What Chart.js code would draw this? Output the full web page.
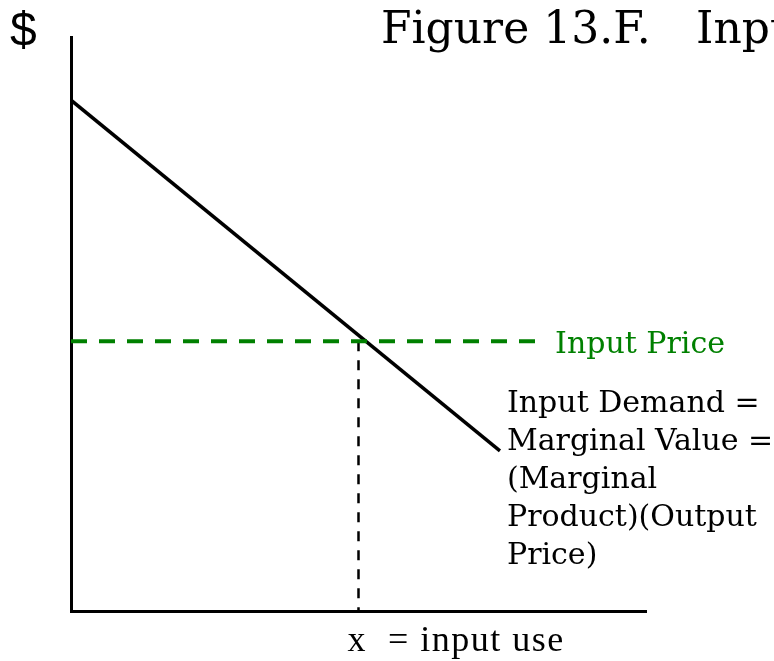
<!DOCTYPE html>
<html>
<head>
<meta charset="utf-8">
<script src="https://cdn.jsdelivr.net/npm/chart.js@4.4.0/dist/chart.umd.min.js"></script>
<style>
  html, body { margin: 0; padding: 0; background: #fff; }
  #wrap { width: 774px; height: 661px; }
</style>
</head>
<body>
<div id="wrap"><canvas id="chart"></canvas></div>
<script>
// curve values in axis units (0..100 on both axes)
const demandX = [0, 74.6]
const demandY = [89, 27.9]
const priceX = [0, 80.7]
const priceY = [47, 47]
const useX = [50, 50]
const useY = [47, 0]

const titleText = ['Figure 13.F.', 'Input Demand']
const yAxisLabel = '$'
const xAxisLabel = 'x  = input use'
const priceLabel = 'Input Price'
const demandLabel = ['Input Demand =', 'Marginal Value =', '(Marginal', 'Product)(Output', 'Price)']

const green = '#008000'
const serif = '"DejaVu Serif", serif'

const toPoints = (xs, ys) => xs.map((x, i) => ({ x, y: ys[i] }))

// draws the free text labels, anchored to the scales
const labelsPlugin = {
  id: 'labels',
  afterDraw(chart) {
    const { ctx, scales: { x, y } } = chart
    ctx.save()
    ctx.textAlign = 'left'
    ctx.fillStyle = '#000'

    ctx.textBaseline = 'alphabetic'
    ctx.font = '48px "Liberation Sans", sans-serif'
    ctx.fillText(yAxisLabel, 10, 46)

    ctx.font = '44px ' + serif
    ctx.fillText(titleText[0], 381, 43)
    ctx.fillText(titleText[1], 696, 43)

    ctx.textBaseline = 'middle'
    ctx.fillStyle = green
    ctx.font = '30px ' + serif
    ctx.fillText(priceLabel, x.getPixelForValue(priceX[1]) + 20, y.getPixelForValue(priceY[1]) + 4)

    ctx.fillStyle = '#000'
    const dx = x.getPixelForValue(demandX[1]) + 7
    const dy = y.getPixelForValue(demandY[1]) - 47
    demandLabel.forEach((line, i) => ctx.fillText(line, dx, dy + i * 38))

    ctx.font = '36px "Liberation Serif", serif'
    ctx.letterSpacing = '1.5px'
    ctx.fillText(xAxisLabel, x.getPixelForValue(useX[0]) - 11, y.getPixelForValue(0) + 31)
    ctx.restore()
  }
}

const axis = (pos) => ({
  type: 'linear',
  position: pos,
  min: 0,
  max: 100,
  ticks: { display: false },
  grid: { display: false, drawTicks: false },
  border: { display: true, color: '#000', width: 3 }
})

new Chart(document.getElementById('chart'), {
  type: 'scatter',
  data: {
    datasets: [
      {
        label: 'Input Price',
        data: toPoints(priceX, priceY),
        showLine: true,
        borderColor: green,
        borderWidth: 4,
        borderDash: [16, 12],
        pointRadius: 0
      },
      {
        label: 'Input use',
        data: toPoints(useX, useY),
        showLine: true,
        borderColor: '#000',
        borderWidth: 2.5,
        borderDash: [10, 9],
        pointRadius: 0
      },
      {
        label: 'Input Demand',
        data: toPoints(demandX, demandY),
        showLine: true,
        borderColor: '#000',
        borderWidth: 3.5,
        pointRadius: 0
      }
    ]
  },
  options: {
    responsive: true,
    maintainAspectRatio: false,
    animation: false,
    layout: { padding: { left: 71, top: 37, right: 128, bottom: 50 } },
    plugins: {
      legend: { display: false },
      tooltip: { enabled: false }
    },
    scales: {
      x: axis('bottom'),
      y: axis('left')
    }
  },
  plugins: [labelsPlugin]
})
</script>
</body>
</html>
